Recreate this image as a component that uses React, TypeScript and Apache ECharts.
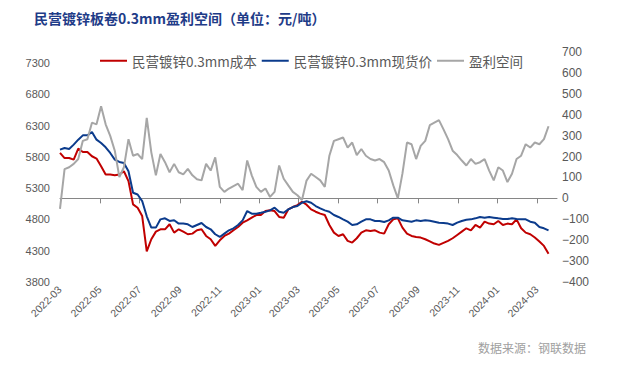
import React, { useEffect, useRef } from 'react';
import * as echarts from 'echarts';

const dates = [
  '2022-03-01','2022-03-08','2022-03-15','2022-03-22','2022-03-29','2022-04-05','2022-04-12','2022-04-19','2022-04-26','2022-05-03',
  '2022-05-10','2022-05-17','2022-05-24','2022-05-31','2022-06-07','2022-06-14','2022-06-21','2022-06-28','2022-07-05','2022-07-12',
  '2022-07-19','2022-07-26','2022-08-02','2022-08-09','2022-08-16','2022-08-23','2022-08-30','2022-09-06','2022-09-13','2022-09-20',
  '2022-09-27','2022-10-04','2022-10-11','2022-10-18','2022-10-25','2022-11-01','2022-11-08','2022-11-15','2022-11-22','2022-11-29',
  '2022-12-06','2022-12-13','2022-12-20','2022-12-27','2023-01-03','2023-01-10','2023-01-17','2023-01-24','2023-01-31','2023-02-07',
  '2023-02-14','2023-02-21','2023-02-28','2023-03-07','2023-03-14','2023-03-21','2023-03-28','2023-04-04','2023-04-11','2023-04-18',
  '2023-04-25','2023-05-02','2023-05-09','2023-05-16','2023-05-23','2023-05-30','2023-06-06','2023-06-13','2023-06-20','2023-06-27',
  '2023-07-04','2023-07-11','2023-07-18','2023-07-25','2023-08-01','2023-08-08','2023-08-15','2023-08-22','2023-08-29','2023-09-05',
  '2023-09-12','2023-09-19','2023-09-26','2023-10-03','2023-10-10','2023-10-17','2023-10-24','2023-10-31','2023-11-07','2023-11-14',
  '2023-11-21','2023-11-28','2023-12-05','2023-12-12','2023-12-19','2023-12-26','2024-01-02','2024-01-09','2024-01-16','2024-01-23',
  '2024-01-30','2024-02-06','2024-02-13','2024-02-20','2024-02-27','2024-03-05','2024-03-12','2024-03-19'
];

// 民营镀锌0.3mm成本 (left axis)
const costValues = [
  5862,5780,5782,5756,5931,5878,5878,5809,5772,5650,
  5517,5517,5507,5517,5570,5411,5040,4987,4854,4290,
  4483,4605,4642,4642,4722,4589,4642,4605,4563,4573,
  4626,4642,4536,4483,4377,4467,4536,4573,4626,4679,
  4748,4785,4828,4870,4870,4934,4945,4934,4839,4828,
  4960,4998,5029,5082,5035,4960,4923,4892,4870,4711,
  4589,4536,4563,4457,4430,4499,4589,4626,4616,4626,
  4589,4573,4722,4801,4817,4669,4573,4536,4520,4510,
  4483,4450,4414,4393,4425,4457,4499,4552,4605,4658,
  4626,4711,4669,4764,4733,4722,4775,4711,4733,4722,
  4801,4658,4589,4563,4510,4446,4377,4250
];

// 民营镀锌0.3mm现货价 (left axis)
const priceValues = [
  5915,5942,5926,5995,6074,6143,6143,6196,6074,6021,
  5952,5862,5756,5719,5703,5570,5226,5199,5093,4850,
  4669,4669,4801,4817,4775,4786,4733,4733,4722,4679,
  4711,4743,4679,4642,4563,4520,4573,4626,4658,4711,
  4785,4934,4892,4892,4907,4923,4945,4987,4923,4907,
  4960,4998,5014,5067,5090,5067,5014,4976,4945,4923,
  4870,4839,4801,4764,4711,4722,4764,4801,4801,4775,
  4775,4759,4785,4828,4828,4785,4775,4764,4785,4775,
  4785,4780,4764,4748,4743,4733,4711,4748,4775,4796,
  4801,4817,4839,4828,4839,4828,4817,4807,4807,4817,
  4807,4801,4801,4764,4748,4679,4658,4626
];

// 盈利空间 (right axis)
const profitValues = [
  -50,140,149,165,188,275,283,362,354,440,
  354,299,228,102,149,283,204,212,188,385,
  220,110,212,173,125,165,125,115,141,110,
  91,86,165,133,196,55,31,47,59,70,
  39,181,110,55,31,47,7,31,157,94,
  62,31,15,-8,85,118,102,86,55,204,
  275,283,291,243,267,207,236,204,188,181,
  188,173,133,62,0,118,267,259,188,251,
  275,350,362,374,330,283,228,207,181,157,
  188,165,173,188,133,86,149,133,78,118,
  188,204,259,243,267,259,283,345
];

const xTickLabels = [
  '2022-03','2022-05','2022-07','2022-09','2022-11','2023-01','2023-03',
  '2023-05','2023-07','2023-09','2023-11','2024-01','2024-03'
];

const seriesNames = ['民营镀锌0.3mm成本', '民营镀锌0.3mm现货价', '盈利空间'];
const seriesColors = ['#C00000', '#0B3B8C', '#A6A6A6'];

const xStart = '2022-03-01';
const xEnd = '2024-04-01';

export default function App() {
  const ref = useRef<HTMLDivElement>(null);

  useEffect(() => {
    const chart = echarts.init(ref.current as HTMLDivElement, null, { renderer: 'svg' });
    const pairs = (vals: number[]) => dates.map((d, i) => [Date.parse(d), vals[i]]);
    const tickValues = xTickLabels.map((s) => Date.parse(s + '-01'));
    const numFont = 'Liberation Sans, Arial, sans-serif';
    const cjkFont = '"Noto Sans CJK SC", sans-serif';

    chart.setOption({
      animation: false,
      backgroundColor: '#ffffff',
      title: {
        text: '民营镀锌板卷0.3mm盈利空间（单位：元/吨）',
        left: 29,
        top: 6,
        textStyle: { fontSize: 14, fontWeight: 'bold', color: '#1F3C88', fontFamily: cjkFont },
      },
      legend: {
        data: seriesNames,
        left: 95,
        top: 49,
        icon: 'rect',
        itemWidth: 27,
        itemHeight: 2,
        itemGap: 5,
        textStyle: { fontSize: 13.5, color: '#595959', fontFamily: cjkFont },
      },
      grid: { left: 60, right: 84, top: 52, bottom: 92, containLabel: false },
      xAxis: {
        type: 'value',
        min: Date.parse(xStart),
        max: Date.parse(xEnd),
        splitLine: { show: false },
        axisLine: { show: true, lineStyle: { color: '#868686', width: 1 } },
        axisTick: { show: true, length: 5, customValues: tickValues, lineStyle: { color: '#868686' } },
        axisLabel: {
          customValues: tickValues,
          rotate: 45,
          margin: 6,
          fontSize: 10.5,
          color: '#595959',
          fontFamily: numFont,
          formatter: (v: number) => new Date(v).toISOString().slice(0, 7),
        },
      },
      yAxis: [
        {
          type: 'value',
          min: 3800,
          max: 7475,
          interval: 500,
          splitLine: { show: false },
          axisLine: { show: false },
          axisTick: { show: false },
          axisLabel: {
            showMaxLabel: false,
            margin: 10,
            fontSize: 11,
            color: '#595959',
            fontFamily: numFont,
            formatter: (v: number) => ((v - 3800) % 500 === 0 ? String(v) : ''),
          },
        },
        {
          type: 'value',
          min: -400,
          max: 700,
          interval: 100,
          splitLine: { show: false },
          axisLine: { show: false },
          axisTick: { show: false },
          axisLabel: {
            margin: 5,
            fontSize: 12,
            color: '#595959',
            fontFamily: numFont,
            formatter: (v: number) => (v < 0 ? '\u2212' + String(-v) : String(v)),
          },
        },
      ],
      series: [
        {
          name: seriesNames[0],
          type: 'line',
          yAxisIndex: 0,
          data: pairs(costValues),
          showSymbol: false,
          symbol: 'none',
          color: seriesColors[0],
          lineStyle: { width: 2, color: seriesColors[0] },
        },
        {
          name: seriesNames[1],
          type: 'line',
          yAxisIndex: 0,
          data: pairs(priceValues),
          showSymbol: false,
          symbol: 'none',
          color: seriesColors[1],
          lineStyle: { width: 2, color: seriesColors[1] },
        },
        {
          name: seriesNames[2],
          type: 'line',
          yAxisIndex: 1,
          data: pairs(profitValues),
          showSymbol: false,
          symbol: 'none',
          color: seriesColors[2],
          lineStyle: { width: 2, color: seriesColors[2] },
        },
      ],
      graphic: [
        {
          type: 'text',
          left: 478,
          top: 341,
          style: { text: '数据来源：钢联数据', fontSize: 12, fill: '#A0A0A0', fontFamily: cjkFont },
        },
      ],
    });
    return () => chart.dispose();
  }, []);

  return (
    <div
      ref={ref}
      style={{ position: 'fixed', left: 0, top: 0, width: 641, height: 374, background: '#fff' }}
    />
  );
}
